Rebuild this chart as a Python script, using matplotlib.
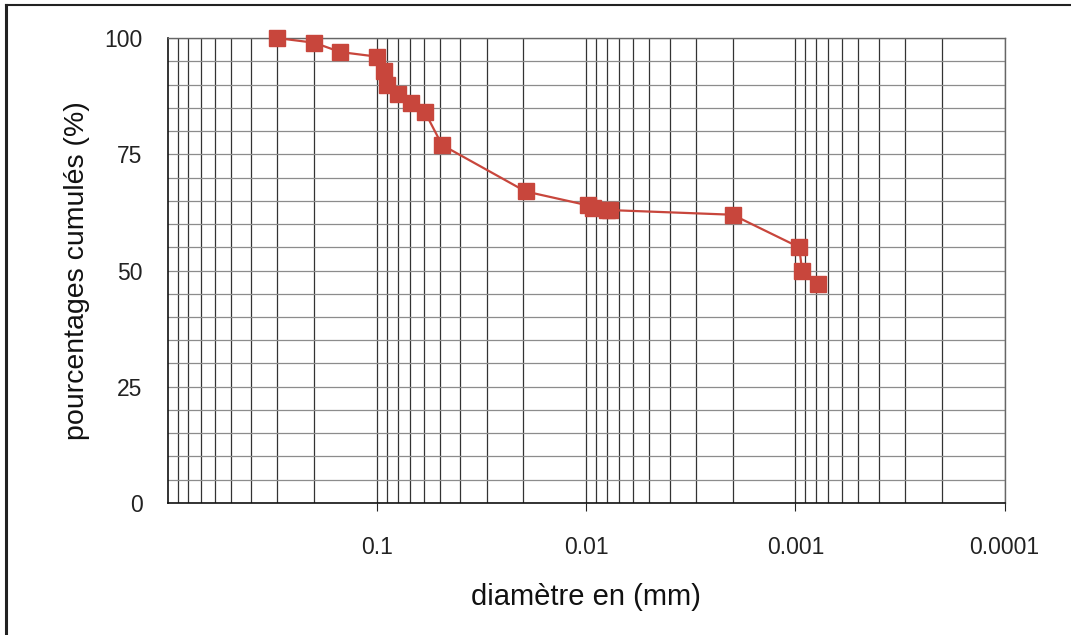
import numpy
from matplotlib import pyplot
from matplotlib.ticker import FixedLocator, LogLocator, NullFormatter
from matplotlib.lines import Line2D

# particle diameters (mm) and cumulative percentages
diam = [0.3, 0.2, 0.15, 0.1, 0.093, 0.09, 0.08, 0.069, 0.059, 0.049,
    0.0195, 0.0098, 0.0093, 0.0080, 0.0077, 0.002, 0.00096, 0.00093,
    0.00078]
pct = [100, 99, 97, 96, 93, 90, 88, 86, 84, 77,
    67, 64, 63.5, 63, 63, 62, 55, 50, 47]

# decade ticks and their labels
xticks = [0.1, 0.01, 0.001, 0.0001]
xticklabels = ['0.1', '0.01', '0.001', '0.0001']
yticks = [0, 25, 50, 75, 100]

# use an Arial-like font everywhere
pyplot.rcParams['font.family'] = ['Liberation Sans', 'DejaVu Sans']

# create the figure and place the axes by hand
fig = pyplot.figure(figsize=(10.71, 6.35), dpi=100.0)
ax = fig.add_axes([0.157, 0.208, 0.781, 0.732])

# draw the curve with square markers
ax.plot(numpy.array(diam), numpy.array(pct), color='#C8463C', \
    linewidth=1.6, marker='s', markersize=11.5, zorder=3, clip_on=False)

# log x-axis, decreasing diameter from left to right
ax.set_xscale('log')
ax.set_xlim([1, 0.0001])
ax.set_ylim([0, 100])

# major ticks only at the labelled decades
ax.xaxis.set_major_locator(FixedLocator(xticks))
ax.set_xticklabels(xticklabels)
ax.xaxis.set_minor_locator(LogLocator(base=10, subs=numpy.arange(2, 10)))
ax.xaxis.set_minor_formatter(NullFormatter())
ax.set_yticks(yticks)
ax.yaxis.set_minor_locator(FixedLocator(numpy.arange(0, 101, 5)))

# grid: dark vertical lines, lighter horizontal lines
ax.grid(True, which='both', axis='x', color='#333333', linewidth=0.9)
ax.grid(True, which='both', axis='y', color='#8c8c8c', linewidth=0.9)
ax.set_axisbelow(True)

# tick appearance
ax.tick_params(axis='x', which='major', direction='out', length=6, \
    width=0.8, pad=18, labelsize=16.5, colors='#222222')
ax.tick_params(axis='x', which='minor', length=0)
ax.tick_params(axis='y', which='both', length=0, pad=18.5, \
    labelsize=16.5, colors='#222222')

# spines
for side in ['left', 'bottom']:
    ax.spines[side].set_color('#111111')
    ax.spines[side].set_linewidth(1.2)
for side in ['top', 'right']:
    ax.spines[side].set_color('#666666')
    ax.spines[side].set_linewidth(1.0)

# axis labels
ax.set_xlabel('diamètre en (mm)', fontsize=21, labelpad=17, color='#111111')
ax.set_ylabel('pourcentages cumulés (%)', fontsize=20.5, labelpad=10, \
    color='#111111')

# outer frame on the left and top of the picture
fig.add_artist(Line2D([0.006, 0.006], [0, 0.992], color='#222222', \
    linewidth=2.2, transform=fig.transFigure))
fig.add_artist(Line2D([0.006, 1], [0.992, 0.992], color='#222222', \
    linewidth=1.5, transform=fig.transFigure))

# save the figure
fig.savefig('out.png', dpi=100)
